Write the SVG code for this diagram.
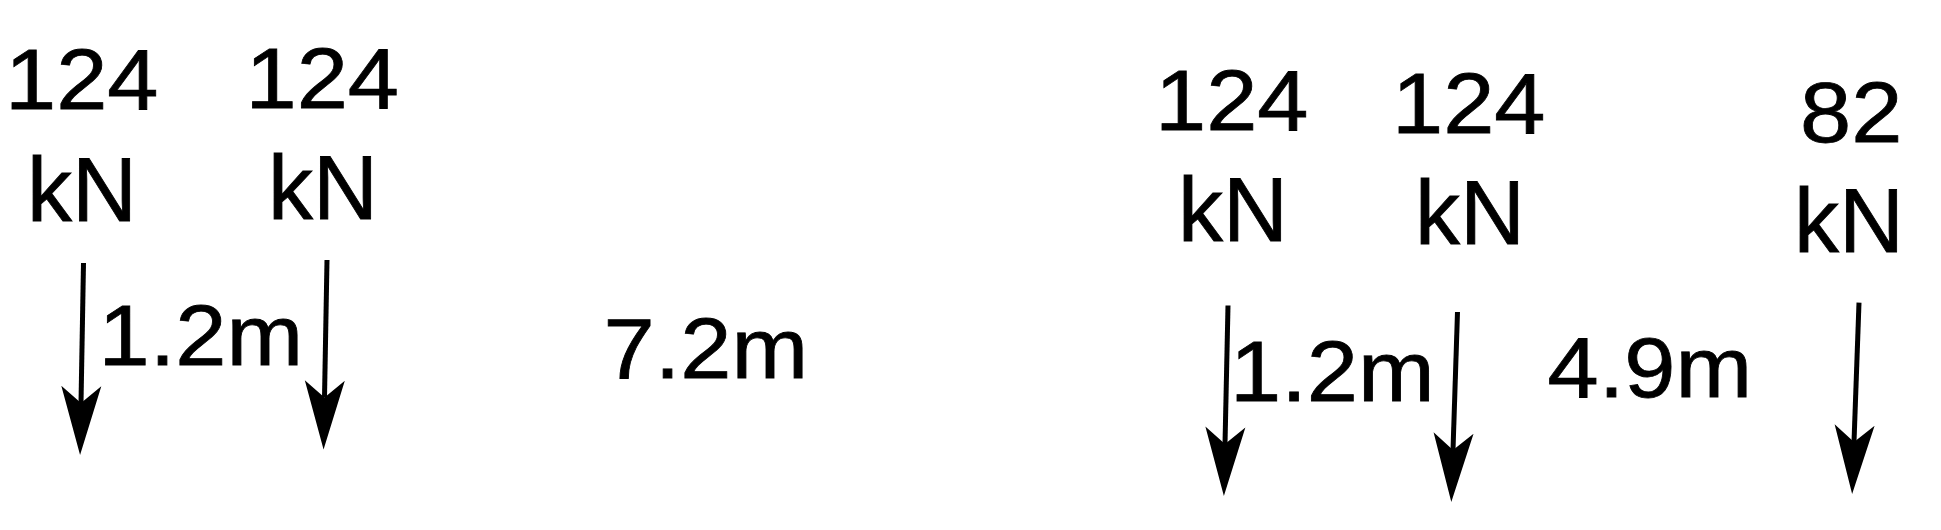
<svg xmlns="http://www.w3.org/2000/svg" width="1941" height="530" viewBox="0 0 1941 530">
  <style>
    .t { font-family: "Liberation Sans", Arial, sans-serif; font-size: 86px; fill: #000; stroke: #000; stroke-width: 0.8px; }
    .u { font-size: 90px; }
    .arr { stroke: #000; stroke-width: 5; fill: none; marker-end: url(#head); }
  </style>
  <defs>
    <marker id="head" markerUnits="userSpaceOnUse" markerWidth="80" markerHeight="50" refX="0" refY="0" orient="auto" overflow="visible">
      <path d="M52,0 L-17,-20 L0,0 L-17,20 Z" fill="#000"/>
    </marker>
  </defs>
  <rect width="1941" height="530" fill="#fff"/>

  <g id="load1">
    <text class="t" transform="translate(5,109) scale(1.07,1)">124</text>
    <text class="t u" x="27" y="220.5">kN</text>
  </g>
  <g id="load2">
    <text class="t" transform="translate(245.5,107.5) scale(1.07,1)">124</text>
    <text class="t u" x="268" y="219">kN</text>
  </g>
  <g id="load3">
    <text class="t" transform="translate(1155,129.5) scale(1.07,1)">124</text>
    <text class="t u" x="1178" y="241">kN</text>
  </g>
  <g id="load4">
    <text class="t" transform="translate(1392,132.5) scale(1.07,1)">124</text>
    <text class="t u" x="1415" y="244">kN</text>
  </g>
  <g id="load5">
    <text class="t" transform="translate(1800,141.7) scale(1.07,1)">82</text>
    <text class="t u" x="1794" y="252">kN</text>
  </g>

  <g id="dim1"><text class="t" transform="translate(98.5,365) scale(1.07,1)">1.2m</text></g>
  <g id="dim2"><text class="t" transform="translate(603.5,378) scale(1.07,1)">7.2m</text></g>
  <g id="dim3"><text class="t" transform="translate(1230,401) scale(1.07,1)">1.2m</text></g>
  <g id="dim4"><text class="t" transform="translate(1547.6,397) scale(1.07,1)">4.9m</text></g>

  <g id="connectors">
    <line class="arr" x1="83.5" y1="263" x2="81" y2="403"/>
    <line class="arr" x1="327" y1="260" x2="324.5" y2="397.5"/>
    <line class="arr" x1="1228" y1="305.5" x2="1225" y2="444"/>
    <line class="arr" x1="1457.5" y1="312" x2="1453" y2="450"/>
    <line class="arr" x1="1859" y1="302.6" x2="1854" y2="442"/>
  </g>
</svg>
